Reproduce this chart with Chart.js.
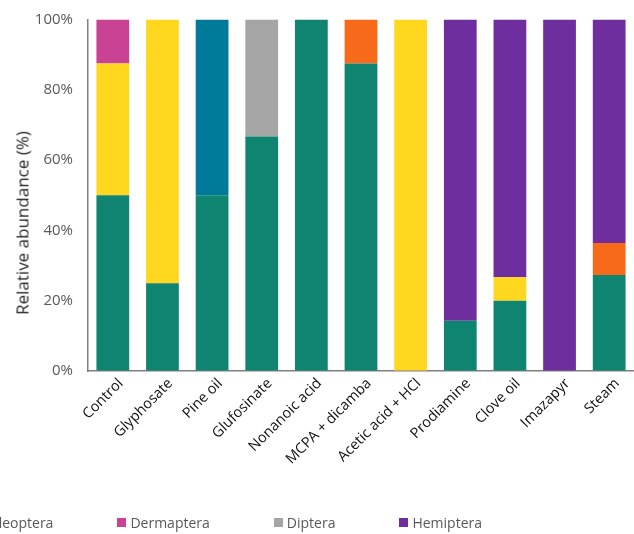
<!DOCTYPE html>
<html><head><meta charset="utf-8">
<script src="https://cdn.jsdelivr.net/npm/chart.js@4.4.1/dist/chart.umd.min.js"></script>
<style>
html,body{margin:0;padding:0;background:#fff;overflow:hidden;width:634px;height:534px}
#wrap{position:relative;width:634px;height:534px;overflow:hidden}
#c{position:absolute;left:0;top:0}
#ytitle{position:absolute;font-family:'Open Sans';font-size:17px;color:#262626;white-space:nowrap;transform:translate(-50%,-50%) rotate(-90deg);left:22px;top:223px}
#legend{position:absolute;top:511px;left:0;white-space:nowrap;font-family:'Open Sans';font-size:14px;color:#595959}
.row{display:flex;height:22px;align-items:center}
.item{display:flex;align-items:center;margin-right:64px}
.box{width:9px;height:9px;margin-right:4px}
</style></head>
<body><div id="wrap"><canvas id="c" width="634" height="534"></canvas><div id="ytitle">Relative abundance (%)</div><div id="legend"></div></div>
<script>
const categories = ['Control','Glyphosate','Pine oil','Glufosinate','Nonanoic acid','MCPA + dicamba','Acetic acid + HCl','Prodiamine','Clove oil','Imazapyr','Steam'];
const araneae     = [50, 25, 50, 66.7, 100, 87.5, 0, 14.3, 20, 0, 27.3];
const blattodea   = [0, 0, 0, 0, 0, 12.5, 0, 0, 0, 0, 9.1];
const coleoptera  = [37.5, 75, 0, 0, 0, 0, 100, 0, 6.7, 0, 0];
const dermaptera  = [12.5, 0, 0, 0, 0, 0, 0, 0, 0, 0, 0];
const diptera     = [0, 0, 0, 33.3, 0, 0, 0, 0, 0, 0, 0];
const hemiptera   = [0, 0, 0, 0, 0, 0, 0, 85.7, 73.3, 100, 63.6];
const hymenoptera = [0, 0, 50, 0, 0, 0, 0, 0, 0, 0, 0];
const yTicks = [0, 20, 40, 60, 80, 100];

const series = [
  {label:'Araneae', data:araneae, color:'#0F8571'},
  {label:'Blattodea', data:blattodea, color:'#F66A19'},
  {label:'Coleoptera', data:coleoptera, color:'#FFD71F'},
  {label:'Dermaptera', data:dermaptera, color:'#C84393'},
  {label:'Diptera', data:diptera, color:'#A5A5A5'},
  {label:'Hemiptera', data:hemiptera, color:'#6F2E9E'},
  {label:'Hymenoptera', data:hymenoptera, color:'#007A99'}
];

const chart = new Chart(document.getElementById('c'), {
  type:'bar',
  data:{
    labels:categories,
    datasets:series.map(s=>({label:s.label,data:s.data,backgroundColor:s.color,borderWidth:0,barPercentage:0.66,categoryPercentage:1}))
  },
  options:{
    responsive:false, animation:false,
    layout:{padding:{top:19.5,right:0,left:0,bottom:0}},
    plugins:{legend:{display:false},tooltip:{enabled:false}},
    scales:{
      x:{stacked:true,grid:{display:false,drawTicks:false},border:{color:'#7f7f7f',width:1.5},
         ticks:{color:'#111',font:{family:'Open Sans',size:14.5},minRotation:45,maxRotation:45,padding:4,labelOffset:8},
         afterFit:s=>{s.height=163;}},
      y:{stacked:true,min:0,max:100,
         grid:{display:true,drawOnChartArea:false,drawTicks:true,tickLength:12,color:'rgba(0,0,0,0)'},
         border:{color:'#7f7f7f',width:1.5},
         afterBuildTicks:s=>{s.ticks=yTicks.map(v=>({value:v}));},
         ticks:{color:'#595959',font:{family:'Open Sans',size:15},padding:3,callback:v=>v+'%'},
         afterFit:s=>{s.width=88;}}
    }
  }
});

// HTML legend built from the chart's datasets
const legend = document.getElementById('legend');
const rows = [series.slice(0,6), series.slice(6)];
let anchor = null;
rows.forEach(r=>{
  const row = document.createElement('div'); row.className='row';
  r.forEach(s=>{
    const it=document.createElement('div'); it.className='item';
    const b=document.createElement('span'); b.className='box'; b.style.background=s.color;
    const t=document.createElement('span'); t.textContent=s.label;
    it.appendChild(b); it.appendChild(t); row.appendChild(it);
    if(s.label==='Dermaptera') anchor=it;
  });
  legend.appendChild(row);
});
legend.style.left = (117 - anchor.offsetLeft) + 'px';
</script>
</body></html>
